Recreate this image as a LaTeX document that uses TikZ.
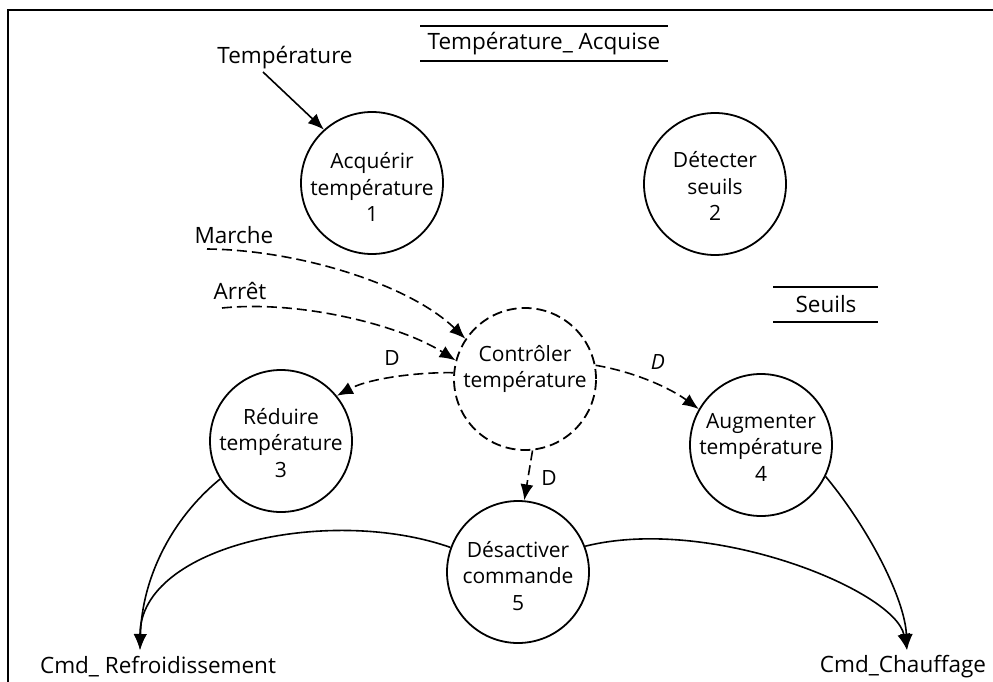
\documentclass[tikz,border=0pt]{standalone}
\usepackage{fontspec}
\setmainfont{Open Sans}
\usetikzlibrary{arrows.meta}
\begin{document}
\begin{tikzpicture}[x=1pt,y=-1pt,
  proc/.style={circle,draw,line width=1.8pt,minimum size=142pt,inner sep=0pt},
  dproc/.style={proc,dash pattern=on 10pt off 5pt},
  ptxt/.style={align=center,font=\fontsize{21}{26.5}\selectfont,inner sep=0pt},
  lbl/.style={font=\fontsize{22.5}{26}\selectfont,inner sep=1pt},
  dlbl/.style={font=\fontsize{21}{24}\selectfont,inner sep=0pt},
  flow/.style={line width=1.6pt,-{Latex[length=16pt,width=13pt]}},
  cflow/.style={flow,dash pattern=on 10pt off 5pt},
  store/.style={line width=1.8pt}]
\useasboundingbox (0,0) rectangle (993,682);
\draw[line width=2.2pt] (8,682) -- (8,10) -- (993,10);

% processes
\node[proc] (c1) at (372,183) {};
\node[ptxt] (c1t) at (372,187) {Acquérir\\température\\1};
\node[proc] (c2) at (715,184) {};
\node[ptxt] (c2t) at (715,186) {Détecter\\seuils\\2};
\node[dproc] (cc) at (525,379) {};
\node[ptxt] (cct) at (525,369) {Contrôler\\température};
\node[proc] (c3) at (281,441) {};
\node[ptxt] (c3t) at (281,443) {Réduire\\température\\3};
\node[proc] (c4) at (761,445) {};
\node[ptxt] (c4t) at (761,447) {Augmenter\\température\\4};
\node[proc] (c5) at (518,572) {};
\node[ptxt] (c5t) at (518,576) {Désactiver\\commande\\5};

% data stores
\node[lbl] (ta) at (544,44) {Température\_ Acquise};
\draw[store] (420,26) -- (668,26) (420,61) -- (668,61);
\node[lbl] (se) at (826,304) {Seuils};
\draw[store] (773,287) -- (878,287) (773,322) -- (878,322);

% external labels
\node[lbl] (tin) at (285,58) {Température};
\node[lbl] (ma) at (234,235) {Marche};
\node[lbl] (ar) at (240,291) {Arrêt};
\node[lbl] (cr) at (158,667) {Cmd\_ Refroidissement};
\node[lbl] (ch) at (903,667) {Cmd\_Chauffage};
\coordinate (tins) at (263,72);
\coordinate (mas) at (207,249);
\coordinate (ars) at (222,308);
\coordinate (cre) at (140,650);
\coordinate (che) at (907,650);

% flows
\draw[flow] (tins) -- (c1.132);
\draw[cflow] (mas) .. controls (300,250) and (410,285) .. (cc.146);
\draw[cflow] (ars) .. controls (300,300) and (400,325) .. (cc.165);
\draw[cflow] (cc.175) .. controls (420,372) and (370,378) .. (c3.39);
\draw[cflow] (cc.11) .. controls (635,372) and (670,388) .. (c4.150);
\draw[cflow] (cc.276) -- (c5.85);
\node[dlbl] (d1) at (392,358) {D};
\node[dlbl] (d2) at (658,362) {\itshape D};
\node[dlbl] (d3) at (549,478) {D};

\draw[flow] (c3.212) .. controls (170,520) and (142,580) .. (cre);
\draw[flow] (c5.160) .. controls (330,505) and (140,545) .. (cre);
\draw[flow] (c4.334) .. controls (870,530) and (905,600) .. (che);
\draw[flow] (c5.21) .. controls (710,515) and (895,590) .. (che);
\end{tikzpicture}
\end{document}
